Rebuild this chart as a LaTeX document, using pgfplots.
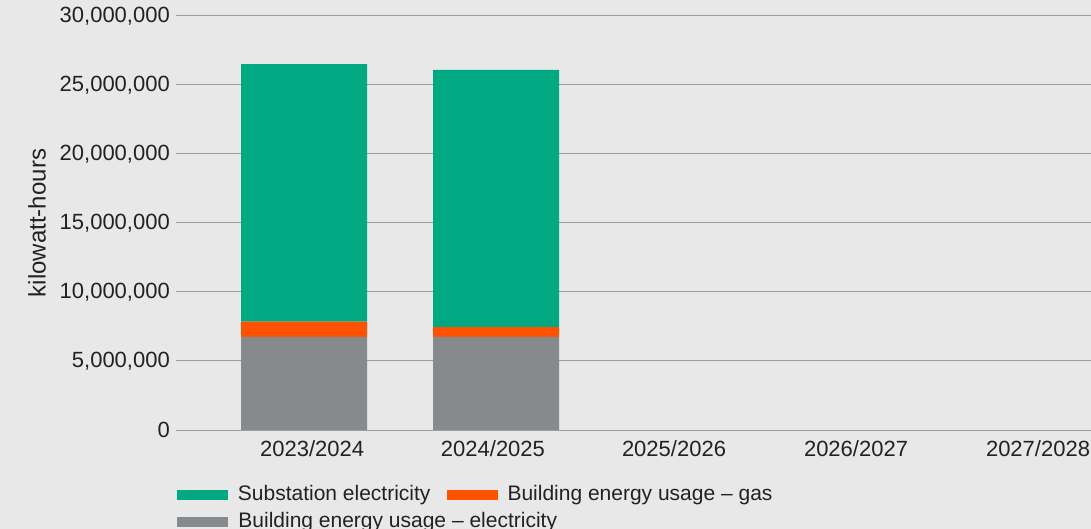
\documentclass[border=0pt]{standalone}
\usepackage{pgfplots}
\pgfplotsset{compat=1.18}
\usepackage{fontspec}
\setmainfont{Liberation Sans}

\definecolor{bgcol}{HTML}{E7E8E7}
\definecolor{subgreen}{HTML}{00A982}
\definecolor{gasorange}{HTML}{FF5200}
\definecolor{elecgray}{HTML}{878A8C}
\definecolor{gridgray}{HTML}{9C9D9D}
\definecolor{txt}{HTML}{222222}

\begin{document}
\begin{tikzpicture}
\useasboundingbox (0,0) rectangle (1091bp,529bp);
\fill[bgcol] (0,0) rectangle (1091bp,529bp);
\begin{axis}[
  at={(176bp,99bp)}, anchor=south west,
  scale only axis,
  width=915bp, height=414bp,
  ybar stacked, bar width=126bp, bar shift=0pt,
  xmin=-0.667, xmax=4.099,
  ymin=0, ymax=30000000,
  ytick={0,5000000,10000000,15000000,20000000,25000000,30000000},
  scaled y ticks=false,
  /pgf/number format/fixed,
  /pgf/number format/precision=0,
  /pgf/number format/1000 sep={,},
  /pgf/number format/assume math mode=true,
  xtick={0.042,0.984,1.927,2.875,3.823},
  xticklabels={2023/2024,2024/2025,2025/2026,2026/2027,2027/2028},
  major tick length=0pt,
  axis x line*=bottom, axis y line*=left,
  y axis line style={draw=none},
  x axis line style={draw=gridgray, line width=1bp},
  ymajorgrids, grid style={gridgray, line width=1bp},
  tick label style={font=\fontsize{22bp}{26bp}\selectfont, text=txt, inner sep=0pt},
  yticklabel style={xshift=-6bp},
  xticklabel style={yshift=-10bp},
  ylabel={kilowatt-hours},
  ylabel style={at={(axis description cs:-0.152,0.5)}, anchor=center, font=\fontsize{24bp}{28bp}\selectfont, text=txt, inner sep=0pt},
  legend columns=2,
  reverse legend,
  legend cell align=left,
  legend style={at={(axis description cs:0.001,-0.133)}, anchor=north west,
    draw=none, fill=none, inner sep=0pt, outer sep=0pt, row sep=7bp,
    font=\fontsize{21bp}{25bp}\selectfont, text=txt,
    nodes={inner sep=0pt, text height=15bp, text depth=5bp},
    /tikz/every odd column/.append style={column sep=10bp},
    /tikz/every even column/.append style={column sep=16bp}},
  legend image code/.code={\fill[#1] (0bp,-5bp) rectangle (51bp,5bp);},
]
\addplot[fill=elecgray, draw=none] coordinates {(0,6740000) (1,6740000)};
\addlegendentry{\rlap{Building energy usage – electricity}}
\addplot[fill=gasorange, draw=none] coordinates {(0,1110000) (1,720000)};
\addlegendentry{Building energy usage – gas}
\addplot[fill=subgreen, draw=none] coordinates {(0,18670000) (1,18630000)};
\addlegendentry{Substation electricity}
\end{axis}
\end{tikzpicture}
\end{document}
